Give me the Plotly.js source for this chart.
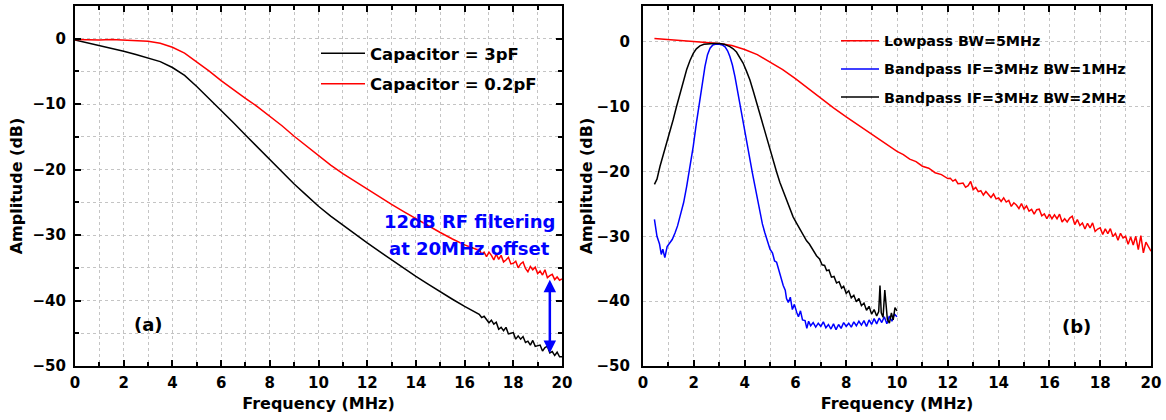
<!DOCTYPE html>
<html>
<head>
<meta charset="utf-8">
<script src="https://cdn.plot.ly/plotly-3.0.1.min.js"></script>
<style>html,body{margin:0;padding:0;background:#fff;}#chart{width:1166px;height:420px;}</style>
</head>
<body>
<div id="chart"></div>
<script>
// ---------- Panel (a) ----------
const capNames = ['Capacitor = 3pF', 'Capacitor = 0.2pF'];
const cap3pF_x = [0,0.5,1,1.5,2,2.5,3,3.5,4,4.5,5,5.5,6,6.5,7,7.5,8,8.5,9,9.5,10,10.5,11,11.5,12,12.5,13,13.5,14,14.5,15,15.5,16,16.5,
  16.6,16.7,16.8,16.9,17.0,17.1,17.2,17.3,17.4,17.5,17.6,17.7,17.8,17.9,18.0,18.1,18.2,18.3,18.4,18.5,18.6,18.7,18.8,18.9,19.0,19.1,19.2,19.3,19.4,19.5,19.6,19.7,19.8,19.9,20.0];
const cap3pF_y = [-0.2,-0.6,-1.0,-1.4,-1.9,-2.4,-2.9,-3.5,-4.4,-5.6,-7.3,-9.1,-10.9,-12.8,-14.7,-16.6,-18.5,-20.4,-22.2,-23.9,-25.6,-27.1,-28.5,-29.9,-31.2,-32.5,-33.8,-35.0,-36.3,-37.5,-38.7,-39.8,-40.9,-41.9,
  -42.1,-42.6,-42.4,-42.9,-43.4,-43.0,-43.6,-43.3,-44.4,-44.1,-44.6,-44.1,-45.1,-45.0,-44.9,-45.9,-45.4,-45.9,-45.5,-46.4,-46.2,-46.8,-46.1,-47.0,-46.9,-46.8,-47.7,-47.2,-47.0,-48.0,-47.8,-48.4,-47.9,-48.6,-48.6];
const cap02pF_x = [0,0.5,1,1.5,2,2.5,3,3.5,4,4.5,5,5.5,6,6.5,7,7.5,8,8.5,9,9.5,10,10.5,11,11.5,12,12.5,13,13.5,14,14.5,15,15.5,16,16.5,
  16.6,16.7,16.8,16.9,17.0,17.1,17.2,17.3,17.4,17.5,17.6,17.7,17.8,17.9,18.0,18.1,18.2,18.3,18.4,18.5,18.6,18.7,18.8,18.9,19.0,19.1,19.2,19.3,19.4,19.5,19.6,19.7,19.8,19.9,20.0];
const cap02pF_y = [-0.1,-0.15,-0.2,-0.1,-0.2,-0.3,-0.4,-0.7,-1.3,-2.2,-3.5,-4.9,-6.4,-7.8,-9.1,-10.4,-11.8,-13.3,-14.9,-16.4,-17.9,-19.3,-20.6,-21.8,-23.0,-24.1,-25.3,-26.4,-27.5,-28.5,-29.6,-30.6,-31.5,-32.2,
  -32.2,-32.9,-32.6,-33.3,-32.6,-33.1,-33.8,-32.9,-33.7,-33.1,-34.1,-33.8,-33.4,-34.4,-34.3,-34.0,-35.0,-34.4,-34.1,-35.1,-35.6,-34.8,-35.3,-34.9,-35.9,-35.5,-36.1,-35.3,-36.5,-36.2,-36.0,-36.8,-36.4,-36.9,-36.7];

// ---------- Panel (b) ----------
const filterNames = ['Lowpass BW=5MHz', 'Bandpass IF=3MHz BW=1MHz', 'Bandpass IF=3MHz BW=2MHz'];
const lowpass_x = [0.45,1,1.5,2,2.5,3,3.5,4,4.5,5,5.5,6,6.5,7,7.5,8,8.5,9,9.5,10,10.25,10.5,10.75,11,11.25,11.5,11.75,12,
  12.1,12.2,12.3,12.4,12.5,12.6,12.7,12.8,12.9,13.0,13.1,13.2,13.3,13.4,13.5,13.6,13.7,13.8,13.9,14.0,
  14.1,14.2,14.3,14.4,14.5,14.6,14.7,14.8,14.9,15.0,15.1,15.2,15.3,15.4,15.5,15.6,15.7,15.8,15.9,16.0,
  16.1,16.2,16.3,16.4,16.5,16.6,16.7,16.8,16.9,17.0,17.1,17.2,17.3,17.4,17.5,17.6,17.7,17.8,17.9,18.0,
  18.1,18.2,18.3,18.4,18.5,18.6,18.7,18.8,18.9,19.0,19.1,19.2,19.3,19.4,19.5,19.6,19.7,19.8,19.9,20.0];
const lowpass_y = [0.5,0.35,0.2,0.05,-0.1,-0.3,-0.6,-1.2,-2.0,-3.1,-4.3,-5.7,-7.2,-8.8,-10.2,-11.6,-12.9,-14.2,-15.6,-16.9,-17.4,-18.1,-18.5,-19.2,-19.5,-20.2,-20.5,-21.1,
  -21.05,-21.5,-21.25,-21.9,-21.85,-21.8,-22.45,-22.2,-21.55,-22.8,-22.46,-23.12,-22.98,-23.64,-23.1,-23.56,-24.02,-23.48,-24.24,-24.1,
  -24.64,-24.08,-24.72,-24.46,-25.4,-24.84,-25.18,-25.72,-24.96,-25.8,-25.32,-26.14,-25.86,-26.58,-25.9,-25.82,-26.84,-26.56,-27.28,-26.6,
  -27.3,-26.7,-27.3,-26.6,-27.8,-27.3,-27.8,-27.2,-26.9,-28.2,-27.42,-28.34,-27.96,-28.88,-28.0,-28.72,-27.94,-29.26,-28.88,-28.7,
  -29.73,-28.86,-29.59,-28.82,-30.05,-29.58,-30.61,-29.54,-30.27,-30.0,-31.25,-30.1,-31.35,-30.0,-32.05,-29.9,-32.55,-30.9,-31.6,-32.3];
const bp1_x = [0.45,0.55,0.65,0.72,0.78,0.86,0.95,1.06,1.15,1.26,1.36,1.46,1.6,1.72,1.85,1.98,2.1,2.24,2.34,2.44,2.54,2.64,2.75,2.85,3.0,3.12,3.23,3.33,3.42,3.52,3.62,3.72,3.82,3.92,4.02,4.12,4.21,4.31,4.41,4.51,4.61,4.7,4.8,4.9,5.0,5.1,5.18,5.26,5.35,5.43,5.52,5.6,5.65,5.72,5.8,5.88,5.96,6.05,6.12,6.2,6.28,6.38,6.45,6.52,6.6,6.7,6.8,6.9,7.0,7.1,7.2,7.3,7.4,7.5,7.6,7.7,7.8,7.9,8.0,8.1,8.2,8.3,8.4,8.5,8.6,8.7,8.8,8.9,9.0,9.1,9.2,9.3,9.4,9.5,9.6,9.7,9.8,9.9,10.0];
const bp1_y = [-27.4,-30.0,-31.2,-32.8,-32.0,-33.3,-31.6,-31.0,-30.5,-29.5,-28.4,-26.9,-24.8,-22.3,-19.3,-16.1,-12.6,-9.0,-6.2,-3.8,-2.0,-1.0,-0.5,-0.4,-0.4,-0.5,-0.8,-1.4,-2.3,-3.6,-5.4,-7.6,-10.0,-12.1,-14.1,-16.2,-18.2,-20.3,-22.3,-24.4,-26.4,-28.1,-29.5,-30.6,-32.0,-32.6,-33.8,-34.0,-35.4,-36.2,-37.6,-38.3,-39.6,-40.2,-39.4,-41.3,-40.5,-41.7,-42.4,-41.5,-42.9,-43.0,-44.2,-43.1,-43.8,-43.3,-44.0,-43.4,-43.9,-43.2,-44.1,-43.6,-44.3,-43.5,-44.4,-43.6,-44.2,-43.3,-43.9,-43.4,-44.0,-43.2,-43.8,-43.1,-43.7,-43.0,-43.9,-42.9,-43.6,-42.7,-43.5,-42.6,-43.3,-42.4,-43.5,-42.3,-43.1,-42.0,-42.4];
const bp2_x = [0.45,0.55,0.67,0.8,0.93,1.06,1.19,1.32,1.46,1.59,1.72,1.85,1.98,2.1,2.24,2.4,2.6,2.8,3.0,3.2,3.42,3.55,3.68,3.81,3.94,4.07,4.21,4.34,4.47,4.6,4.74,4.87,5.0,5.13,5.26,5.39,5.52,5.65,5.78,5.91,6.05,6.2,6.3,6.44,6.55,6.7,6.83,6.95,7.05,7.15,7.23,7.32,7.42,7.52,7.62,7.72,7.82,7.9,8.0,8.1,8.2,8.3,8.4,8.5,8.6,8.7,8.8,8.9,9.0,9.1,9.2,9.28,9.33,9.38,9.45,9.52,9.57,9.62,9.7,9.78,9.85,9.92,10.0];
const bp2_y = [-22.0,-21.2,-19.2,-17.5,-15.6,-13.8,-12.0,-10.0,-7.9,-6.0,-4.3,-2.9,-1.8,-1.1,-0.65,-0.4,-0.3,-0.3,-0.3,-0.4,-0.75,-1.1,-1.6,-2.4,-3.3,-4.5,-5.9,-7.6,-9.4,-11.3,-13.2,-15.0,-16.8,-18.5,-20.1,-21.7,-23.1,-24.5,-25.8,-27.0,-28.0,-29.1,-29.8,-30.7,-31.2,-32.2,-33.0,-33.5,-34.4,-34.5,-35.3,-35.2,-36.3,-36.2,-37.2,-37.0,-38.0,-37.7,-38.8,-38.4,-39.5,-39.1,-40.1,-39.6,-40.7,-40.3,-41.4,-40.8,-42.0,-41.3,-42.3,-41.6,-37.6,-41.8,-42.5,-38.3,-40.5,-42.8,-43.4,-41.8,-42.9,-41.0,-41.5];

const xTitle = 'Frequency (MHz)';
const yTitle = 'Amplitude (dB)';
const noteLines = ['12dB RF filtering', 'at 20MHz offset'];
const panelLabels = ['(a)', '(b)'];

const FONT = 'DejaVu Sans, Liberation Sans, Arial, sans-serif';
const W = 1166, H = 420;
const gridCol = '#c4c4c4';

function line(x, y, name, color, xa, ya, leg, grp) {
  return {x: x, y: y, name: name, type: 'scatter', mode: 'lines', xaxis: xa, yaxis: ya,
    legend: leg, legendgroup: grp, line: {color: color, width: 1.5}, hoverinfo: 'skip'};
}

const traces = [
  line(cap3pF_x, cap3pF_y, capNames[0], '#000000', 'x', 'y', 'legend', 'a1'),
  line(cap02pF_x, cap02pF_y, capNames[1], '#ff0000', 'x', 'y', 'legend', 'a2'),
  line(lowpass_x, lowpass_y, filterNames[0], '#ff0000', 'x2', 'y2', 'legend2', 'b1'),
  line(bp1_x, bp1_y, filterNames[1], '#0000ff', 'x2', 'y2', 'legend2', 'b2'),
  line(bp2_x, bp2_y, filterNames[2], '#000000', 'x2', 'y2', 'legend2', 'b3')
];

const tickFont = {family: FONT, size: 15, weight: 'bold', color: '#000'};
const titleFont = {family: FONT, size: 16, weight: 'bold', color: '#000'};

function xAxis(domain, anchor) {
  return {domain: domain, anchor: anchor, range: [0, 20], dtick: 2, tick0: 0,
    ticks: 'inside', ticklen: 6, tickwidth: 2, tickcolor: '#000', mirror: 'allticks',
    showline: true, linewidth: 2, linecolor: '#000', zeroline: false,
    showgrid: true, gridcolor: gridCol, griddash: 'dot', gridwidth: 1,
    minor: {dtick: 1, ticks: 'inside', ticklen: 4, tickwidth: 2, tickcolor: '#000',
      showgrid: true, gridcolor: gridCol, griddash: 'dot', gridwidth: 1},
    tickfont: tickFont, ticklabelstandoff: 2,
    title: {text: xTitle, font: titleFont, standoff: 7}, fixedrange: true};
}

const yDom = [1 - 366 / H, 1 - 6 / H];

const layout = {
  width: W, height: H, margin: {l: 0, r: 0, t: 0, b: 0},
  paper_bgcolor: '#fff', plot_bgcolor: '#fff', showlegend: true,
  font: {family: FONT, color: '#000'},
  xaxis: xAxis([75 / W, 562 / W], 'y'),
  xaxis2: xAxis([643 / W, 1151 / W], 'y2'),
  yaxis: {domain: yDom, anchor: 'x', range: [-50, 5], dtick: 10, tick0: 0,
    ticks: 'inside', ticklen: 6, tickwidth: 2, tickcolor: '#000', mirror: 'allticks',
    showline: true, linewidth: 2, linecolor: '#000', zeroline: false,
    showgrid: true, gridcolor: gridCol, griddash: 'dot', gridwidth: 1,
    minor: {dtick: 5, tick0: 0, ticks: 'inside', ticklen: 4, tickwidth: 2, tickcolor: '#000',
      showgrid: true, gridcolor: gridCol, griddash: 'dot', gridwidth: 1},
    tickfont: tickFont, ticklabelstandoff: 4,
    title: {text: yTitle, font: titleFont, standoff: 6}, fixedrange: true},
  yaxis2: {domain: yDom, anchor: 'x2', range: [-50, 5.5], dtick: 10, tick0: 0,
    ticks: '', mirror: true,
    showline: true, linewidth: 2, linecolor: '#000', zeroline: false,
    showgrid: true, gridcolor: gridCol, griddash: 'dot', gridwidth: 1,
    tickfont: tickFont, ticklabelstandoff: 8,
    title: {text: yTitle, font: titleFont, standoff: 0}, fixedrange: true},
  yaxis3: {domain: yDom, anchor: 'x2', overlaying: 'y2', range: [-50, 5.5],
    tickmode: 'linear', tick0: -50, dtick: 5.55,
    ticks: 'inside', ticklen: 5, tickwidth: 2, tickcolor: '#000', mirror: 'allticks',
    showline: false, showgrid: false, zeroline: false, showticklabels: false, fixedrange: true},
  legend: {x: 316 / W, xanchor: 'left', y: 1 - 36 / H, yanchor: 'top',
    bgcolor: 'rgba(0,0,0,0)', borderwidth: 0, traceorder: 'grouped', tracegroupgap: 6,
    itemwidth: 44, font: {family: FONT, size: 16.5, weight: 'bold', color: '#000'}},
  legend2: {x: 836 / W, xanchor: 'left', y: 1 - 25 / H, yanchor: 'top',
    bgcolor: 'rgba(0,0,0,0)', borderwidth: 0, traceorder: 'grouped', tracegroupgap: 6.5,
    itemwidth: 38, font: {family: FONT, size: 14.3, weight: 'bold', color: '#000'}},
  annotations: [
    {xref: 'x', yref: 'y', x: 16.2, y: -27.9, text: noteLines[0], showarrow: false,
      font: {family: FONT, size: 18, weight: 'bold', color: '#0000ff'}},
    {xref: 'x', yref: 'y', x: 16.2, y: -32.1, text: noteLines[1], showarrow: false,
      font: {family: FONT, size: 18, weight: 'bold', color: '#0000ff'}},
    {xref: 'x', yref: 'y', x: 19.5, y: -48.0, axref: 'x', ayref: 'y', ax: 19.5, ay: -36.6,
      text: '', showarrow: true, arrowside: 'end+start', arrowhead: 2, startarrowhead: 2,
      arrowsize: 1, startarrowsize: 1, arrowwidth: 2.5, arrowcolor: '#0000ff', standoff: 0, startstandoff: 0},
    {xref: 'x', yref: 'y', x: 3.0, y: -43.7, text: panelLabels[0], showarrow: false,
      font: {family: FONT, size: 18, weight: 'bold', color: '#000'}},
    {xref: 'x2', yref: 'y2', x: 17.05, y: -43.9, text: panelLabels[1], showarrow: false,
      font: {family: FONT, size: 18, weight: 'bold', color: '#000'}}
  ]
};

Plotly.newPlot('chart', traces, layout, {staticPlot: true, displayModeBar: false});
</script>
</body>
</html>
